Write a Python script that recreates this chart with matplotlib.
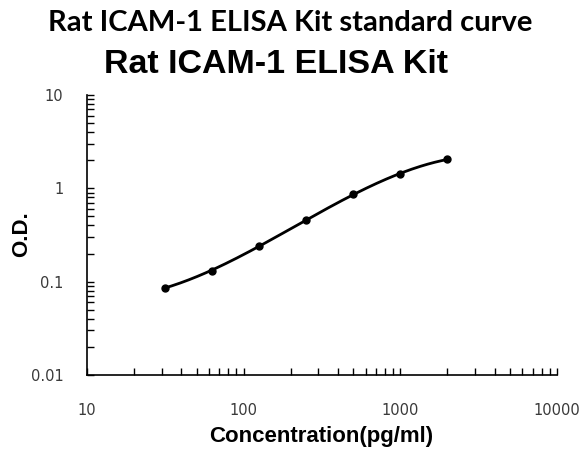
import numpy as np
import matplotlib
matplotlib.use("Agg")
import matplotlib.pyplot as plt
from matplotlib.ticker import LogLocator, FixedLocator, FixedFormatter, NullFormatter

conc = [31.25, 62.5, 125, 250, 500, 1000, 2000]
od = [0.086, 0.130, 0.241, 0.457, 0.869, 1.41, 2.06]
xticks = [10, 100, 1000, 10000]
xticklabels = ["10", "100", "1000", "10000"]
yticks = [0.01, 0.1, 1, 10]
yticklabels = ["0.01", "0.1", "1", "10"]

fig = plt.figure(figsize=(5.81, 4.5), dpi=100)
ax = fig.add_axes([87/581, 1-375/450, (557-87)/581, (375-95)/450])

# smooth fitted curve in log-log space
lx = np.log10(conc); ly = np.log10(od)
coef = np.polyfit(lx, ly, 3)
xs = np.linspace(lx[0], lx[-1], 200)
ax.plot(10**xs, 10**np.polyval(coef, xs), color="black", lw=2)
ax.plot(conc, od, "o", color="black", ms=5)

ax.set_xscale("log"); ax.set_yscale("log")
ax.set_xlim(10, 10000); ax.set_ylim(0.01, 10)
for s in ["top", "right"]:
    ax.spines[s].set_visible(False)
for s in ["left", "bottom"]:
    ax.spines[s].set_linewidth(1.2)

ax.xaxis.set_major_locator(FixedLocator(xticks))
ax.xaxis.set_major_formatter(FixedFormatter(xticklabels))
ax.yaxis.set_major_locator(FixedLocator(yticks))
ax.yaxis.set_major_formatter(FixedFormatter(yticklabels))
ax.xaxis.set_minor_locator(LogLocator(base=10, subs=np.arange(2, 10)))
ax.yaxis.set_minor_locator(LogLocator(base=10, subs=np.arange(2, 10)))
ax.xaxis.set_minor_formatter(NullFormatter()); ax.yaxis.set_minor_formatter(NullFormatter())
ax.tick_params(which="both", direction="in", length=5, width=1, color="black")
ax.tick_params(axis="x", which="major", pad=20, labelsize=10.5, labelcolor="#3a3a3a")
ax.tick_params(axis="y", which="major", pad=17, labelsize=10.5, labelcolor="#3a3a3a")
for lab in ax.get_xticklabels() + ax.get_yticklabels():
    lab.set_family("DejaVu Sans")

ax.set_xlabel("Concentration(pg/ml)", fontsize=16, fontweight="bold",
              family="Liberation Sans", labelpad=6)
ax.set_ylabel("O.D.", fontsize=16, fontweight="bold", family="Liberation Sans")
ax.xaxis.label.set_position((((321-87)/(557-87)), 0))
ax.yaxis.set_label_coords(22/581, 1-234/450, transform=fig.transFigure)
ax.yaxis.label.set_va("center")

fig.text(0.5, 1-23/450, "Rat ICAM-1 ELISA Kit standard curve", ha="center", va="center",
         fontsize=21, fontweight="bold", family="Lato")
fig.text(276/581, 1-65/450, "Rat ICAM-1 ELISA Kit", ha="center", va="center",
         fontsize=24.5, fontweight="bold", family="Liberation Sans")

fig.savefig("out.png", dpi=100)
